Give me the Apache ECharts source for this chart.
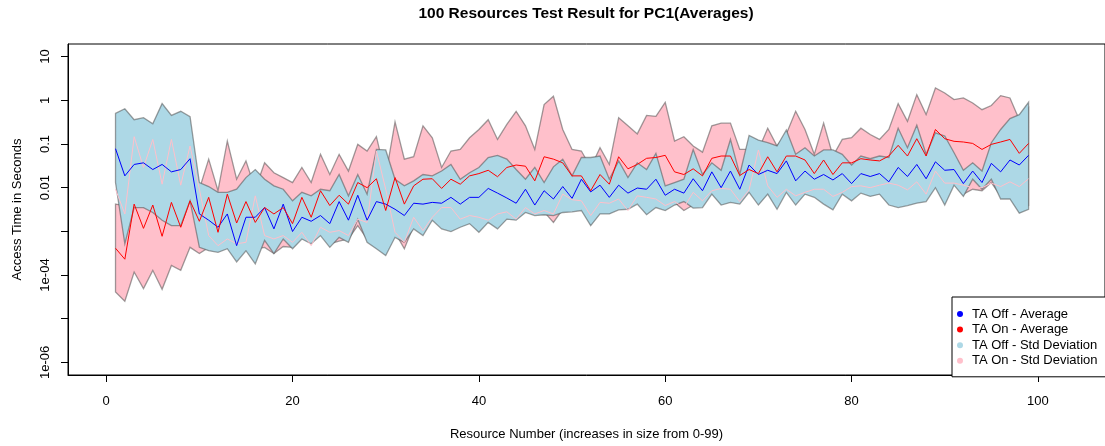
<!DOCTYPE html>
<html><head><meta charset="utf-8">
<script src="https://cdn.jsdelivr.net/npm/echarts@6/dist/echarts.min.js"></script>
<style>html,body{margin:0;padding:0;background:#fff}#c{width:1105px;height:446px}</style>
</head><body><div id="c"></div>
<script>
const resourceIds = [1,2,3,4,5,6,7,8,9,10,11,12,13,14,15,16,17,18,19,20,21,22,23,24,25,26,27,28,29,30,31,32,33,34,35,36,37,38,39,40,41,42,43,44,45,46,47,48,49,50,51,52,53,54,55,56,57,58,59,60,61,62,63,64,65,66,67,68,69,70,71,72,73,74,75,76,77,78,79,80,81,82,83,84,85,86,87,88,89,90,91,92,93,94,95,96,97,98,99];

const taOffAvg = [0.078,0.0186,0.034,0.037,0.026,0.034,0.023,0.026,0.046,0.0025,
 0.0018,0.00124,0.0025,0.00047,0.0021,0.0021,0.0035,0.00114,0.0042,0.00099,
 0.0021,0.0017,0.0023,0.0015,0.0048,0.0018,0.0067,0.0018,0.0048,0.0042,
 0.0032,0.0023,0.0044,0.0042,0.0046,0.0044,0.006,0.0042,0.006,0.006,
 0.0096,0.0075,0.0058,0.0044,0.0092,0.004,0.0085,0.0055,0.0106,0.0057,
 0.0156,0.008,0.0114,0.006,0.0114,0.0075,0.0098,0.0092,0.0156,0.0067,
 0.0092,0.0075,0.016,0.0085,0.023,0.01,0.024,0.0092,0.033,0.02,
 0.025,0.021,0.041,0.0143,0.024,0.0156,0.02,0.015,0.021,0.0124,
 0.021,0.018,0.021,0.0136,0.029,0.018,0.034,0.016,0.039,0.025,
 0.026,0.0124,0.024,0.0131,0.036,0.023,0.043,0.033,0.055];

const taOnAvg = [0.00041,0.00023,0.0042,0.00117,0.004,0.00077,0.0046,0.00124,0.005,0.0017,
 0.006,0.00095,0.0071,0.00155,0.0048,0.0016,0.0035,0.0025,0.0035,0.0015,
 0.006,0.0021,0.0085,0.0039,0.0067,0.0042,0.0131,0.01,0.016,0.003,
 0.017,0.0042,0.011,0.0156,0.016,0.0096,0.0156,0.012,0.0186,0.021,
 0.025,0.0178,0.029,0.033,0.031,0.0143,0.051,0.045,0.037,0.0186,
 0.0186,0.0085,0.02,0.012,0.051,0.027,0.034,0.047,0.049,0.055,
 0.023,0.02,0.027,0.0186,0.047,0.053,0.053,0.019,0.026,0.021,
 0.051,0.023,0.053,0.053,0.043,0.021,0.043,0.02,0.037,0.037,
 0.046,0.043,0.041,0.053,0.093,0.053,0.132,0.053,0.215,0.132,
 0.115,0.111,0.103,0.075,0.098,0.111,0.127,0.061,0.103];

const taOffSdUpper = [0.5,0.64,0.36,0.4,0.29,0.84,0.45,0.56,0.42,0.0131,
 0.0106,0.0078,0.0078,0.0092,0.017,0.026,0.0156,0.011,0.0092,0.005,
 0.0078,0.0065,0.0092,0.0085,0.02,0.0065,0.02,0.0071,0.075,0.073,
 0.0156,0.011,0.0143,0.02,0.0186,0.024,0.034,0.0156,0.022,0.029,
 0.049,0.055,0.045,0.026,0.0156,0.029,0.0131,0.03,0.045,0.0186,
 0.049,0.049,0.053,0.0156,0.041,0.017,0.037,0.026,0.061,0.011,
 0.0131,0.0156,0.075,0.02,0.037,0.025,0.127,0.02,0.157,0.123,
 0.107,0.09,0.21,0.058,0.082,0.053,0.073,0.073,0.058,0.033,
 0.053,0.046,0.053,0.049,0.23,0.082,0.27,0.058,0.18,0.152,
 0.063,0.025,0.037,0.024,0.107,0.215,0.38,0.47,0.9];

const taOffSdLower = [0.0131,0.00052,0.0035,0.0035,0.0027,0.0018,0.00135,0.00135,0.005,0.00043,
 0.00036,0.00033,0.0004,0.0002,0.00036,0.00018,0.00062,0.00031,0.00067,0.0004,
 0.00067,0.00052,0.0008,0.00043,0.00073,0.00056,0.0019,0.00056,0.0004,0.00028,
 0.00073,0.00056,0.00114,0.0008,0.0018,0.00114,0.00099,0.00124,0.0015,0.00095,
 0.0016,0.00114,0.0019,0.0018,0.0027,0.0023,0.0024,0.0023,0.0027,0.0028,
 0.003,0.00135,0.0025,0.0025,0.0031,0.0032,0.0042,0.0024,0.0035,0.003,
 0.004,0.0048,0.0034,0.0035,0.0071,0.004,0.0046,0.0042,0.0078,0.004,
 0.0071,0.0032,0.0078,0.004,0.0071,0.006,0.0042,0.0031,0.0071,0.005,
 0.0075,0.0063,0.0071,0.004,0.0035,0.0039,0.0044,0.0048,0.01,0.004,
 0.0114,0.0063,0.0156,0.0092,0.0156,0.0055,0.0055,0.0026,0.0032];

const taOnSdUpper = [0.0042,0.0039,0.0046,0.0039,0.0044,0.0035,0.0048,0.0035,0.0055,0.0092,
 0.045,0.0085,0.117,0.0156,0.041,0.0092,0.037,0.022,0.017,0.0131,
 0.029,0.0131,0.058,0.02,0.058,0.024,0.098,0.069,0.147,0.0186,
 0.32,0.045,0.051,0.26,0.139,0.029,0.069,0.075,0.139,0.215,
 0.36,0.127,0.28,0.56,0.26,0.075,0.8,1.24,0.215,0.075,
 0.069,0.029,0.082,0.034,0.4,0.26,0.17,0.45,0.43,0.9,
 0.117,0.147,0.09,0.065,0.26,0.3,0.3,0.075,0.075,0.073,
 0.23,0.09,0.17,0.56,0.215,0.058,0.3,0.053,0.127,0.139,
 0.23,0.165,0.127,0.215,0.84,0.33,1.35,0.47,1.91,1.47,
 1.04,1.13,0.87,0.61,0.76,1.28,1.13,0.36,0.67];

const taOnSdLower = [4.1e-5,2.5e-5,1.17e-4,4.9e-5,1.28e-4,4.7e-5,1.66e-4,1.28e-4,0.00043,0.00031,
 0.00043,0.0004,0.00052,0.00033,0.00047,0.0004,0.00043,0.00031,0.00045,0.00043,
 0.0008,0.00056,0.00095,0.00052,0.0006,0.00067,0.00135,0.00067,0.00067,0.00047,
 0.00095,0.0004,0.00135,0.00104,0.0019,0.00135,0.00124,0.0015,0.0018,0.00124,
 0.0019,0.00135,0.0023,0.0021,0.0032,0.0027,0.0028,0.0016,0.0032,0.0032,
 0.0035,0.0016,0.003,0.003,0.0035,0.0039,0.0048,0.0028,0.004,0.0035,
 0.0046,0.003,0.004,0.0042,0.008,0.0048,0.0053,0.005,0.0089,0.0046,
 0.0085,0.0039,0.0089,0.0046,0.008,0.0071,0.005,0.0037,0.008,0.006,
 0.0085,0.0075,0.008,0.0048,0.0042,0.0046,0.0053,0.0057,0.0114,0.0048,
 0.0131,0.0071,0.0092,0.0085,0.0131,0.0065,0.0065,0.0032,0.0039];

const taOnPaleLine = [0.0092,0.0025,0.147,0.029,0.127,0.012,0.127,0.0114,0.09,0.0092,
 0.0008,0.00047,0.00067,0.00052,0.00056,0.0065,0.0008,0.00067,0.0008,0.00056,
 0.00095,0.00047,0.00124,0.00095,0.00104,0.0008,0.0019,0.0016,0.069,0.0092,
 0.00095,0.00056,0.0021,0.00104,0.0021,0.0035,0.0035,0.0019,0.0023,0.0021,
 0.0018,0.0025,0.0028,0.0019,0.0035,0.0025,0.003,0.0025,0.0071,0.0053,
 0.005,0.0023,0.0046,0.0044,0.0055,0.003,0.0065,0.006,0.0055,0.0039,
 0.0048,0.0035,0.0078,0.005,0.0085,0.0096,0.0092,0.0048,0.0089,0.073,
 0.011,0.006,0.0092,0.0065,0.0078,0.0092,0.0092,0.0063,0.0078,0.0106,
 0.011,0.01,0.0114,0.0127,0.0114,0.0089,0.0136,0.0071,0.024,0.0127,
 0.0127,0.0114,0.01,0.01,0.0127,0.0106,0.0136,0.0106,0.016];

const xTickValues = [0,20,40,60,80,100];
const yTickValues = [1e-6,1e-5,1e-4,1e-3,0.01,0.1,1,10];
const yLabelValues = [1e-6,1e-4,0.01,0.1,1,10];
const yLabelTexts = ['1e-06','1e-04','0.01','0.1','1','10'];
const seriesNames = ['TA Off - Average','TA On - Average','TA Off - Std Deviation','TA On - Std Deviation'];

const FONT = '"Liberation Sans", Arial, Helvetica, sans-serif';

function pairs(ys){ return resourceIds.map((x,i)=>[x, ys[i]]); }
function bandRenderer(upper, lower, fill){
  return function(params, api){
    if (params.dataIndex !== 0) return null;
    const pts = [];
    for (let i = 0; i < resourceIds.length; i++) pts.push(api.coord([resourceIds[i], upper[i]]));
    for (let i = resourceIds.length - 1; i >= 0; i--) pts.push(api.coord([resourceIds[i], lower[i]]));
    return {type:'polygon', shape:{points:pts}, style:{fill:fill, stroke:'rgba(80,80,80,0.55)', lineWidth:1.3}};
  };
}
function yLabel(v){
  const e = Math.log10(v);
  let best = 0, bd = 1e9;
  yLabelValues.forEach((lv,k)=>{ const d = Math.abs(Math.log10(lv)-e); if(d<bd){bd=d;best=k;} });
  return bd < 0.01 ? yLabelTexts[best] : '';
}

const chart = echarts.init(document.getElementById('c'), null, {renderer:'canvas'});
chart.setOption({
  animation:false,
  backgroundColor:'#fff',
  textStyle:{fontFamily:FONT},
  title:{text:'100 Resources Test Result for PC1(Averages)', left:586, top:6, textAlign:'center', padding:0,
    textStyle:{fontSize:15.5, fontWeight:'bold', color:'#000', fontFamily:FONT}},
  grid:{left:68, top:44, right:-2, bottom:69, show:true, borderColor:'#000', borderWidth:1, backgroundColor:'transparent', containLabel:false},
  legend:{data:seriesNames, orient:'vertical', left:952, top:297, icon:'circle', itemWidth:14, itemHeight:6, itemGap:1.6,
    padding:[10,40,9,5], borderColor:'#000', borderWidth:1, backgroundColor:'#fff', borderRadius:0,
    textStyle:{fontSize:13, color:'#000', fontFamily:FONT, lineHeight:14}, selectedMode:false},
  xAxis:{type:'value', min:-4.1, max:107.2, 
    name:'Resource Number (increases in size from 0-99)', nameLocation:'middle', nameGap:53,
    nameTextStyle:{fontSize:13, color:'#000', fontFamily:FONT},
    axisLine:{show:true, onZero:false, lineStyle:{color:'#000'}},
    axisTick:{show:true, length:7, customValues:xTickValues, lineStyle:{color:'#000'}},
    axisLabel:{customValues:xTickValues, margin:20, fontSize:13, color:'#000', fontFamily:FONT},
    splitLine:{show:false}},
  yAxis:{type:'log', min:5.14e-7, max:19.45, logBase:10,
    name:'Access Time in Seconds', nameLocation:'middle', nameGap:44, nameRotate:90,
    nameTextStyle:{fontSize:13, color:'#000', fontFamily:FONT},
    axisLine:{show:true, onZero:false, lineStyle:{color:'#000'}},
    axisTick:{show:true, length:7, customValues:yTickValues, lineStyle:{color:'#000'}},
    axisLabel:{customValues:yLabelValues, rotate:90, margin:16, fontSize:13, color:'#000', fontFamily:FONT, formatter:yLabel},
    splitLine:{show:false}},
  series:[
    {name:seriesNames[3], type:'custom', z:1, itemStyle:{color:'#FFC0CB'}, data:[[resourceIds[0], taOnSdUpper[0]]],
      renderItem:bandRenderer(taOnSdUpper, taOnSdLower, '#FFC0CB')},
    {name:seriesNames[2], type:'custom', z:2, itemStyle:{color:'#ADD8E6'}, data:[[resourceIds[0], taOffSdUpper[0]]],
      renderItem:bandRenderer(taOffSdUpper, taOffSdLower, '#ADD8E6')},
    {name:'pale', type:'line', z:3, data:pairs(taOnPaleLine), symbol:'none', lineStyle:{color:'#FFC0CB', width:1}, itemStyle:{color:'#FFC0CB'}},
    {name:seriesNames[0], type:'line', z:4, data:pairs(taOffAvg), symbol:'none', lineStyle:{color:'#0000FF', width:1}, itemStyle:{color:'#0000FF'}},
    {name:seriesNames[1], type:'line', z:5, data:pairs(taOnAvg), symbol:'none', lineStyle:{color:'#FF0000', width:1}, itemStyle:{color:'#FF0000'}}
  ]
});
</script></body></html>
